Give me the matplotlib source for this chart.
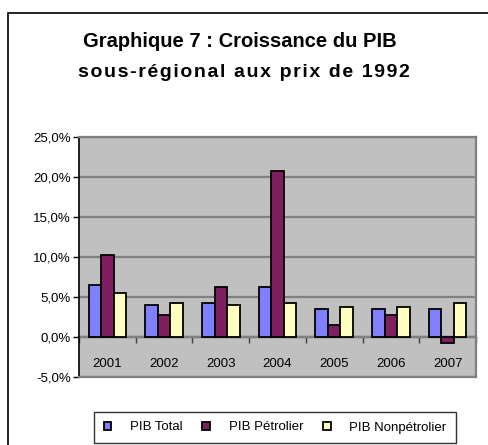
import matplotlib.pyplot as plt
import numpy as np
from matplotlib.patches import Rectangle

plt.rcParams['font.family'] = ['Liberation Sans', 'DejaVu Sans']

years = ['2001', '2002', '2003', '2004', '2005', '2006', '2007']
pib_total = [6.5, 4.0, 4.3, 6.3, 3.5, 3.5, 3.5]
pib_petrolier = [10.3, 2.8, 6.3, 20.8, 1.5, 2.8, -0.7]
pib_nonpetrolier = [5.5, 4.3, 4.0, 4.3, 3.8, 3.8, 4.3]
series_names = ['PIB Total', 'PIB Pétrolier', 'PIB Nonpétrolier']
colors = ['#8080FF', '#7F1F5F', '#FFFFC0']
yticks = [-5, 0, 5, 10, 15, 20, 25]
title_1 = 'Graphique 7 : Croissance du PIB'
title_2 = 'sous-régional aux prix de 1992'

fig = plt.figure(figsize=(4.88, 4.45), dpi=100)
W, H = 488, 445

# outer chart frame (left and top edges visible)
fig.add_artist(Rectangle((8 / W, -0.1), 1.2, 1.1 - 13 / H, transform=fig.transFigure,
                         fill=False, edgecolor='black', linewidth=1.2))

ax = fig.add_axes([79 / W, 1 - 377 / H, 397 / W, 240 / H])
ax.set_facecolor('#C0C0C0')

x = np.arange(len(years))
bw = 0.22
for i, (vals, c) in enumerate(zip([pib_total, pib_petrolier, pib_nonpetrolier], colors)):
    ax.bar(x + (i - 1) * bw, vals, bw, color=c, edgecolor='black', linewidth=1.3,
           label=series_names[i], zorder=3)

ax.set_xlim(-0.5, len(years) - 0.5)
ax.set_ylim(-5, 25)
ax.set_yticks(yticks)
ax.set_yticklabels([f'{v:.1f}%'.replace('.', ',') for v in yticks], fontsize=9.5)
ax.yaxis.grid(True, color='#808080', linewidth=1.6, zorder=1)
ax.set_axisbelow(True)
ax.tick_params(axis='y', direction='out', length=4, width=1, pad=2)

ax.set_xticks(x)
ax.set_xticklabels(years, fontsize=9.5)
ax.tick_params(axis='x', length=0, pad=-14)

for s in ['top', 'right', 'bottom']:
    ax.spines[s].set_color('#808080')
    ax.spines[s].set_linewidth(1.6)
ax.spines['left'].set_color('black')
ax.spines['left'].set_linewidth(1.2)

# zero axis with category boundary ticks
zero_loc = (0 - (-5)) / 30
sec = ax.secondary_xaxis(zero_loc)
sec.set_xticks(np.arange(len(years) + 1) - 0.5)
sec.set_xticklabels([])
sec.tick_params(direction='out', length=4, width=1, color='#404040')
sec.spines['bottom'].set_color('#404040')
sec.spines['bottom'].set_linewidth(1.6)

# title, second line letter-spaced as in the original
fig.text(240 / W, 1 - 47 / H, title_1, ha='center', va='baseline',
         fontsize=14.5, fontweight='bold')
fig.text(0.5, 1 - 77 / H, '\u200a'.join(title_2), ha='center', va='baseline',
         fontsize=14, fontweight='bold')

leg = fig.legend(loc='center', bbox_to_anchor=(275 / W, 1 - 427.5 / H), ncol=3,
                 fontsize=9.5, frameon=True, fancybox=False, handlelength=0.6,
                 handleheight=0.6, handletextpad=1.4, columnspacing=1.5,
                 borderpad=0.7)
leg.get_frame().set_edgecolor('black')
leg.get_frame().set_linewidth(1.0)

fig.savefig('out.png', dpi=100)
